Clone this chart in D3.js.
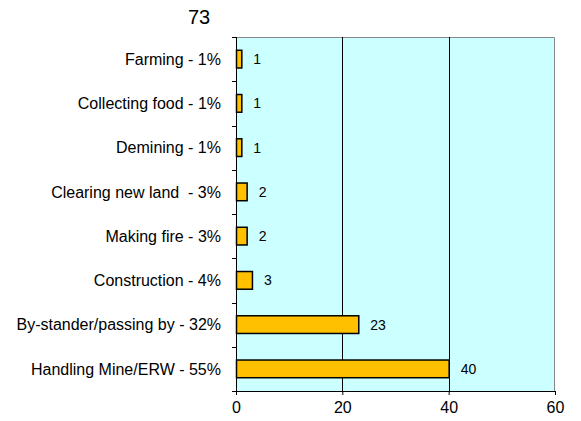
<!DOCTYPE html>
<html>
<head>
<meta charset="utf-8">
<script src="https://cdn.jsdelivr.net/npm/d3@7"></script>
<style>
  body { margin: 0; background: #fff; }
  svg text { font-family: "Liberation Sans", Arial, sans-serif; fill: #000; }
</style>
</head>
<body>
<div id="chart"></div>
<script>
// chart data, top to bottom
var categories = ["Farming - 1%", "Collecting food - 1%", "Demining - 1%", "Clearing new land  - 3%",
                  "Making fire - 3%", "Construction - 4%", "By-stander/passing by - 32%", "Handling Mine/ERW - 55%"];
var values = [1, 1, 1, 2, 2, 3, 23, 40];
var xTicks = [0, 20, 40, 60];
var title = "73";

var W = 581, H = 421;
var margin = { top: 37, right: 26, bottom: 30, left: 236 };
var iw = 555 - margin.left, ih = 391 - margin.top;

var svg = d3.select("#chart").append("svg").attr("width", W).attr("height", H);

var x = d3.scaleLinear().domain([0, 60]).range([0, iw]);
var y = d3.scaleBand().domain(categories).range([0, ih]).paddingInner(0.6).paddingOuter(0.3);

var g = svg.append("g").attr("transform", "translate(" + margin.left + "," + margin.top + ")");

// plot background
g.append("rect").attr("width", iw).attr("height", ih).attr("fill", "#ccffff");

// top/right border (grey)
g.append("path")
  .attr("d", "M0,0.5H" + (iw - 0.5) + "V" + ih)
  .attr("fill", "none").attr("stroke", "#888").attr("stroke-width", 1);

// vertical gridlines
g.selectAll("line.grid")
  .data(xTicks.filter(function(d) { return d > 0 && d < 60; }))
  .enter().append("line")
    .attr("class", "grid")
    .attr("x1", function(d) { return Math.round(x(d)) + 0.5; })
    .attr("x2", function(d) { return Math.round(x(d)) + 0.5; })
    .attr("y1", 0).attr("y2", ih)
    .attr("stroke", "#000").attr("stroke-width", 1);

// bars
g.selectAll("rect.bar")
  .data(values)
  .enter().append("rect")
    .attr("class", "bar")
    .attr("x", 0.5)
    .attr("y", function(d, i) { return y(categories[i]); })
    .attr("width", function(d) { return x(d); })
    .attr("height", y.bandwidth())
    .attr("fill", "#ffc000")
    .attr("stroke", "#000").attr("stroke-width", 1.5);

// value labels
g.selectAll("text.val")
  .data(values)
  .enter().append("text")
    .attr("class", "val")
    .attr("x", function(d) { return x(d) + 12; })
    .attr("y", function(d, i) { return y(categories[i]) + y.bandwidth() / 2; })
    .attr("dy", "0.36em")
    .style("font-size", "14px")
    .text(function(d) { return d; });

// x axis
var xAxis = g.append("g")
  .attr("transform", "translate(0," + ih + ")")
  .call(d3.axisBottom(x).tickValues(xTicks).tickSizeInner(4).tickSizeOuter(0).tickPadding(7));
xAxis.select(".domain").attr("stroke", "#000");
xAxis.selectAll("text").style("font-size", "16px").style("font-family", "Liberation Sans, Arial, sans-serif");

// y axis: ticks on band boundaries
var step = ih / categories.length;
g.append("line").attr("x1", 0.5).attr("x2", 0.5).attr("y1", 0).attr("y2", ih + 4).attr("stroke", "#000");
g.selectAll("line.ytick")
  .data(d3.range(categories.length + 1))
  .enter().append("line")
    .attr("class", "ytick")
    .attr("x1", -4).attr("x2", 0)
    .attr("y1", function(i) { return Math.round(i * step) + 0.5; })
    .attr("y2", function(i) { return Math.round(i * step) + 0.5; })
    .attr("stroke", "#000");

g.selectAll("text.cat")
  .data(categories)
  .enter().append("text")
    .attr("class", "cat")
    .attr("x", -15)
    .attr("y", function(d) { return y(d) + y.bandwidth() / 2; })
    .attr("dy", "0.36em")
    .attr("text-anchor", "end")
    .style("font-size", "16px")
    .style("white-space", "pre")
    .text(function(d) { return d; });

// title
svg.append("text")
  .attr("x", 199).attr("y", 24)
  .attr("text-anchor", "middle")
  .style("font-size", "20px")
  .text(title);
</script>
</body>
</html>
